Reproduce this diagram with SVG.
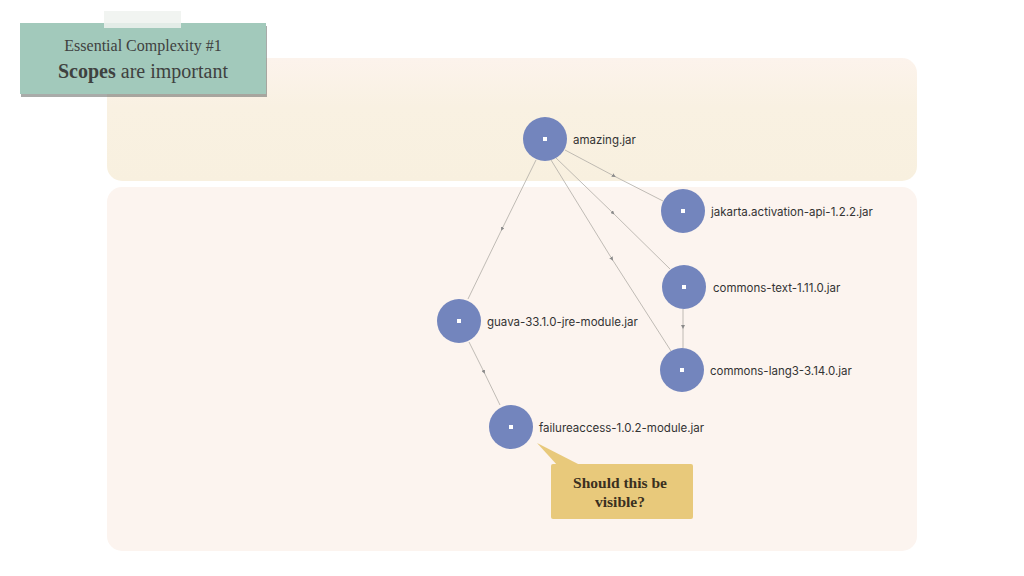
<svg xmlns="http://www.w3.org/2000/svg" width="1024" height="576" viewBox="0 0 1024 576">
<defs>
<linearGradient id="topg" x1="0" y1="0" x2="0" y2="1">
<stop offset="0" stop-color="#fcf3ec"/>
<stop offset="0.4" stop-color="#f9f1e2"/>
<stop offset="1" stop-color="#f8f0df"/>
</linearGradient>
<marker id="arr" viewBox="0 0 10 10" refX="5" refY="5" markerWidth="4" markerHeight="4" orient="auto" markerUnits="userSpaceOnUse">
<path d="M0,0 L10,5 L0,10 z" fill="#8a8a8a"/>
</marker>
<style>
.edge{stroke:#b0aca6;stroke-width:0.8;fill:none;marker-mid:url(#arr)}
.node circle{fill:#7385bd}
.node rect{fill:#ffffff}
.lbl{font-family:Inter,"Noto Sans",sans-serif;font-size:11.5px;fill:#333}
.title{font-family:"Liberation Serif",serif;fill:#3f4140}
.call{font-family:"Liberation Serif",serif;font-size:15.5px;font-weight:bold;fill:#3a3020;text-anchor:middle}
</style>
</defs>
<rect width="1024" height="576" fill="#ffffff"/>
<rect x="107" y="58" width="810" height="123" rx="15" fill="url(#topg)"/>
<rect x="107" y="187" width="810" height="364" rx="15" fill="#fcf4ef"/>

<g id="title-card">
<rect x="21" y="26" width="246" height="71" fill="#6f7370" opacity="0.6"/>
<rect x="20" y="23" width="246" height="71" fill="#a2c9bb"/>
<rect x="104" y="11" width="77" height="17" fill="#eef2ef" opacity="0.85"/>
<text class="title" x="143" y="51" font-size="16" text-anchor="middle">Essential Complexity #1</text>
<text class="title" x="143" y="78" font-size="20" text-anchor="middle"><tspan font-weight="bold">Scopes</tspan> are important</text>
</g>

<g id="connectors">
<polyline class="edge" points="565,150 614,176 663,201"/>
<polyline class="edge" points="555,157 613,213 670,269"/>
<polyline class="edge" points="551,160 612,259 671,351"/>
<polyline class="edge" points="536,160 502,229 468,299"/>
<polyline class="edge" points="683,309 683,327 683,348"/>
<polyline class="edge" points="469,342 484,372 500,405"/>
</g>

<g id="amazing" class="node"><circle cx="545" cy="139" r="22"/><rect x="543" y="137" width="4" height="4"/><text class="lbl" x="573" y="143.5">amazing.jar</text></g>
<g id="jakarta" class="node"><circle cx="683" cy="211" r="22"/><rect x="681" y="209" width="4" height="4"/><text class="lbl" x="711" y="215.5">jakarta.activation-api-1.2.2.jar</text></g>
<g id="commons-text" class="node"><circle cx="684" cy="287" r="22"/><rect x="682" y="285" width="4" height="4"/><text class="lbl" x="713" y="291.5">commons-text-1.11.0.jar</text></g>
<g id="commons-lang3" class="node"><circle cx="682" cy="370" r="22"/><rect x="680" y="368" width="4" height="4"/><text class="lbl" x="710" y="374.5">commons-lang3-3.14.0.jar</text></g>
<g id="guava" class="node"><circle cx="459" cy="321" r="22"/><rect x="457" y="319" width="4" height="4"/><text class="lbl" x="487" y="325.5">guava-33.1.0-jre-module.jar</text></g>
<g id="failureaccess" class="node"><circle cx="511" cy="427" r="22"/><rect x="509" y="425" width="4" height="4"/><text class="lbl" x="539" y="431.5">failureaccess-1.0.2-module.jar</text></g>

<g id="callout">
<path d="M537,443 L558,466 L582,466 Z" fill="#e8c97b"/>
<rect x="551" y="464" width="142" height="55" rx="2" fill="#e8c97b"/>
<text class="call" x="620" y="488">Should this be</text>
<text class="call" x="620" y="507">visible?</text>
</g>
</svg>
